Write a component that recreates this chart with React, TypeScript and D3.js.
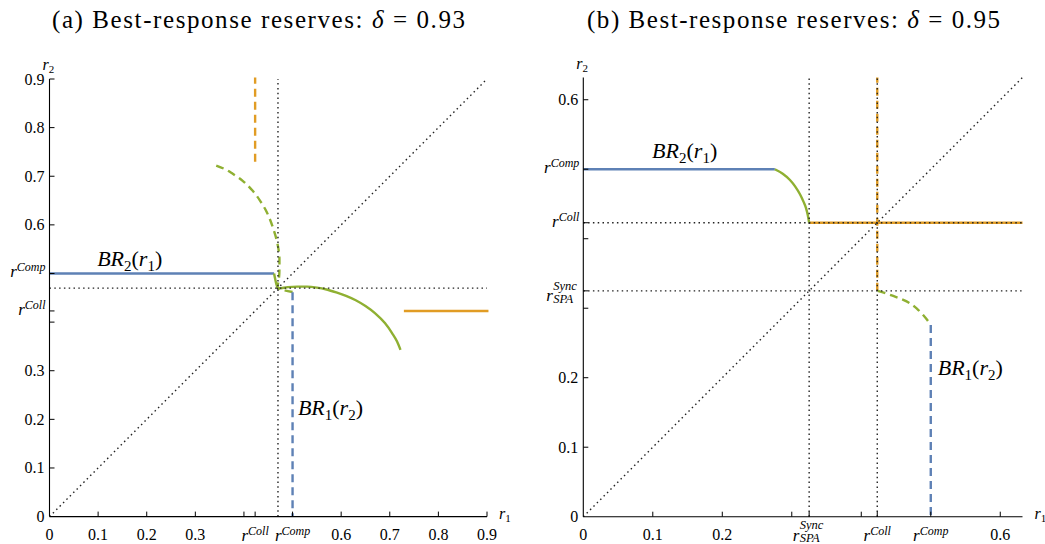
import React from "react";
import * as d3 from "d3";

const FONT = "'Liberation Serif', 'Times New Roman', serif";
const BLUE = "#5e81b5";
const ORANGE = "#e19c24";
const GREEN = "#8fb032";
const DOT = "#222";

type Pt = [number, number];

// ---------- Panel (a): delta = 0.93 ----------
const aTitle = "(a) Best-response reserves: ";
const aDelta = "0.93";
const aMax = 0.9;
const aRSync = 0.47;
const aXTicks = [0.1, 0.2, 0.3, 0.4, 0.423, 0.5, 0.6, 0.7, 0.8, 0.9];
const aXLabels = ["0.1", "0.2", "0.3", "", "r^Coll", "r^Comp", "0.6", "0.7", "0.8", "0.9"];
const aYTicks = [0.1, 0.2, 0.3, 0.4, 0.423, 0.5, 0.6, 0.7, 0.8, 0.9];
const aYLabels = ["0.1", "0.2", "0.3", "", "r^Coll", "r^Comp", "0.6", "0.7", "0.8", "0.9"];

const aBR2Blue: Pt[] = [[0, 0.5], [0.462, 0.5]];
const aBR2Green: Pt[] = [
  [0.462, 0.5], [0.471, 0.469], [0.49, 0.472], [0.51, 0.473], [0.53, 0.473],
  [0.55, 0.471], [0.57, 0.467], [0.59, 0.461], [0.61, 0.454], [0.63, 0.445],
  [0.65, 0.433], [0.67, 0.418], [0.69, 0.398], [0.705, 0.377], [0.715, 0.36], [0.722, 0.343],
];
const aBR1Blue: Pt[] = [[0.5, 0.4615], [0.5, 0]];
const aBR1Green: Pt[] = [
  [0.5, 0.462], [0.469, 0.471], [0.472, 0.49], [0.473, 0.51], [0.473, 0.53],
  [0.471, 0.55], [0.467, 0.57], [0.461, 0.59], [0.454, 0.61], [0.445, 0.63],
  [0.433, 0.65], [0.418, 0.67], [0.398, 0.69], [0.377, 0.705], [0.36, 0.715], [0.343, 0.722],
];
const aOrangeV: Pt[] = [[0.423, 0.73], [0.423, 0.903]];
const aOrangeH: Pt[] = [[0.729, 0.423], [0.903, 0.423]];
const aBR2Text: Pt = [0.098, 0.515];
const aBR1Text: Pt = [0.511, 0.209];

// ---------- Panel (b): delta = 0.95 ----------
const bTitle = "(b) Best-response reserves: ";
const bDelta = "0.95";
const bMax = 0.632;
const bRSync = 0.325;
const bRColl = 0.423;
const bXTicks = [0.1, 0.2, 0.3, 0.325, 0.4, 0.423, 0.5, 0.6];
const bXLabels = ["0.1", "0.2", "", "r^Sync_SPA", "", "r^Coll", "r^Comp", "0.6"];
const bYTicks = [0.1, 0.2, 0.3, 0.325, 0.4, 0.423, 0.5, 0.6];
const bYLabels = ["0.1", "0.2", "", "r^Sync_SPA", "", "r^Coll", "r^Comp", "0.6"];

const bBR2Blue: Pt[] = [[0, 0.5], [0.2756, 0.5]];
const bBR2Green: Pt[] = [
  [0.2756, 0.5], [0.287, 0.4935], [0.2974, 0.4845], [0.305, 0.475], [0.3118, 0.464],
  [0.317, 0.453], [0.3204, 0.4444], [0.323, 0.434], [0.325, 0.423],
];
const bBR2Orange: Pt[] = [[0.325, 0.423], [0.632, 0.423]];
const bBR1Orange: Pt[] = [[0.423, 0.325], [0.423, 0.632]];
const bBR1Green: Pt[] = [
  [0.4236, 0.325], [0.435, 0.3215], [0.446, 0.3176], [0.458, 0.313], [0.47, 0.3071],
  [0.48, 0.2995], [0.489, 0.2902], [0.495, 0.283], [0.5, 0.276],
];
const bBR1Blue: Pt[] = [[0.5, 0.276], [0.5, 0]];
const bBR2Text: Pt = [0.099, 0.516];
const bBR1Text: Pt = [0.51, 0.204];

type LineSpec = { pts: Pt[]; color: string; dash?: string; width?: number; curve?: any };

type PanelCfg = {
  title: string;
  delta: string;
  titleX: number;
  max: number;
  x0: number; x1: number; y0: number; y1: number;
  xTicks: number[]; xLabels: string[]; yTicks: number[]; yLabels: string[];
  lines: LineSpec[];
  refs: Pt[][];
  br2: Pt; br1: Pt;
};

function CustomLabel({ label, x, y, axis }: { label: string; x: number; y: number; axis: "x" | "y" }) {
  if (label.startsWith("r^Sync")) {
    const w = 33;
    const sx = axis === "y" ? x - w : x - w / 2;
    const rBase = axis === "y" ? y + 10 : 541;
    const supBase = axis === "y" ? y - 1 : 529;
    const subBase = axis === "y" ? y + 12 : 542;
    return (
      <g fontFamily={FONT} fontStyle="italic">
        <text x={sx} y={rBase} fontSize={17}>r</text>
        <text x={sx + 7} y={supBase} fontSize={12.5}>Sync</text>
        <text x={sx + 7} y={subBase} fontSize={12.5}>SPA</text>
      </g>
    );
  }
  const sup = label.split("^")[1];
  return (
    <text
      x={x}
      y={axis === "y" ? y + 4 : 541}
      textAnchor={axis === "y" ? "end" : "middle"}
      fontFamily={FONT}
      fontStyle="italic"
      fontSize={17}
    >
      <tspan>r</tspan>
      <tspan fontSize={12} dy={-6}>{sup}</tspan>
    </text>
  );
}

function BRLabel({ x, y, a, b }: { x: number; y: number; a: string; b: string }) {
  return (
    <text x={x} y={y} fontFamily={FONT} fontSize={22}>
      <tspan fontStyle="italic">BR</tspan>
      <tspan fontSize={15} dy={5}>{a}</tspan>
      <tspan dy={-5}>(</tspan>
      <tspan fontStyle="italic">r</tspan>
      <tspan fontSize={15} dy={5}>{b}</tspan>
      <tspan dy={-5}>)</tspan>
    </text>
  );
}

function Panel({ cfg }: { cfg: PanelCfg }) {
  const x = d3.scaleLinear().domain([0, cfg.max]).range([cfg.x0, cfg.x1]);
  const y = d3.scaleLinear().domain([0, cfg.max]).range([cfg.y0, cfg.y1]);
  const mk = (curve: any) =>
    d3.line<Pt>().x((d) => x(d[0])).y((d) => y(d[1])).curve(curve || d3.curveLinear);
  return (
    <g>
      <text x={cfg.titleX} y={28} fontFamily={FONT} fontSize={25} textLength={413} lengthAdjust="spacing">
        <tspan>{cfg.title}</tspan>
        <tspan fontStyle="italic">δ</tspan>
        <tspan>{" = " + cfg.delta}</tspan>
      </text>
      {/* colored lines */}
      {cfg.lines.map((l, i) => (
        <path
          key={"l" + i}
          d={mk(l.curve)(l.pts) || ""}
          fill="none"
          stroke={l.color}
          strokeWidth={l.width || 2.4}
          strokeDasharray={l.dash}
        />
      ))}
      {/* dotted reference lines */}
      {cfg.refs.map((r, i) => (
        <path
          key={"r" + i}
          d={mk(null)(r) || ""}
          fill="none"
          stroke={DOT}
          strokeWidth={1.4}
          strokeDasharray="1.5 3.3"
        />
      ))}
      {/* axes */}
      <line x1={cfg.x0} x2={cfg.x0} y1={cfg.y0} y2={cfg.y1} stroke="#000" strokeWidth={1.1} />
      <line x1={cfg.x0} x2={cfg.x1} y1={cfg.y0} y2={cfg.y0} stroke="#000" strokeWidth={1.1} />
      {cfg.xTicks.map((t, i) => (
        <g key={"xt" + i}>
          <line x1={x(t)} x2={x(t)} y1={cfg.y0} y2={cfg.y0 - 5} stroke="#000" strokeWidth={1} />
          {cfg.xLabels[i] && !cfg.xLabels[i].startsWith("r") && (
            <text x={x(t)} y={540} textAnchor="middle" fontFamily={FONT} fontSize={16}>
              {cfg.xLabels[i]}
            </text>
          )}
          {cfg.xLabels[i].startsWith("r") && <CustomLabel label={cfg.xLabels[i]} x={x(t)} y={cfg.y0} axis="x" />}
        </g>
      ))}
      {cfg.yTicks.map((t, i) => (
        <g key={"yt" + i}>
          <line x1={cfg.x0} x2={cfg.x0 + 5} y1={y(t)} y2={y(t)} stroke="#000" strokeWidth={1} />
          {cfg.yLabels[i] && !cfg.yLabels[i].startsWith("r") && (
            <text x={cfg.x0 - 5} y={y(t) + 5.5} textAnchor="end" fontFamily={FONT} fontSize={16}>
              {cfg.yLabels[i]}
            </text>
          )}
          {cfg.yLabels[i].startsWith("r") && <CustomLabel label={cfg.yLabels[i]} x={cfg.x0 - 4} y={y(t)} axis="y" />}
        </g>
      ))}
      <text x={x(0)} y={540} textAnchor="middle" fontFamily={FONT} fontSize={16}>0</text>
      <text x={cfg.x0 - 5} y={y(0) + 5.5} textAnchor="end" fontFamily={FONT} fontSize={16}>0</text>
      {/* axis names */}
      <text x={cfg.x0 - 7} y={cfg.y1 - 9} fontFamily={FONT} fontSize={16}>
        <tspan fontStyle="italic">r</tspan>
        <tspan fontSize={11} dy={3}>2</tspan>
      </text>
      <text x={cfg.x1 + 12} y={cfg.y0 + 2} fontFamily={FONT} fontSize={16}>
        <tspan fontStyle="italic">r</tspan>
        <tspan fontSize={11} dy={3}>1</tspan>
      </text>
      <BRLabel x={x(cfg.br2[0])} y={y(cfg.br2[1])} a="2" b="1" />
      <BRLabel x={x(cfg.br1[0])} y={y(cfg.br1[1])} a="1" b="2" />
    </g>
  );
}

const DASH = "8 5";

const panelA: PanelCfg = {
  title: aTitle,
  delta: aDelta,
  titleX: 52,
  max: aMax,
  x0: 49.5, x1: 487, y0: 516.6, y1: 79,
  xTicks: aXTicks, xLabels: aXLabels, yTicks: aYTicks, yLabels: aYLabels,
  lines: [
    { pts: aOrangeV, color: ORANGE, dash: DASH },
    { pts: aOrangeH, color: ORANGE },
    { pts: aBR1Green, color: GREEN, dash: DASH, curve: d3.curveMonotoneY },
    { pts: aBR1Blue, color: BLUE, dash: DASH },
    { pts: aBR2Blue, color: BLUE },
    { pts: aBR2Green, color: GREEN, curve: d3.curveMonotoneX },
  ],
  refs: [
    [[0, 0], [aMax, aMax]],
    [[aRSync, 0], [aRSync, aMax]],
    [[0, aRSync], [aMax, aRSync]],
  ],
  br2: aBR2Text,
  br1: aBR1Text,
};

const panelB: PanelCfg = {
  title: bTitle,
  delta: bDelta,
  titleX: 587,
  max: bMax,
  x0: 583.3, x1: 1022.5, y0: 516.7, y1: 77.5,
  xTicks: bXTicks, xLabels: bXLabels, yTicks: bYTicks, yLabels: bYLabels,
  lines: [
    { pts: bBR2Orange, color: ORANGE },
    { pts: bBR1Orange, color: ORANGE, dash: DASH },
    { pts: bBR1Green, color: GREEN, dash: DASH, curve: d3.curveMonotoneX },
    { pts: bBR1Blue, color: BLUE, dash: DASH },
    { pts: bBR2Blue, color: BLUE },
    { pts: bBR2Green, color: GREEN, curve: d3.curveMonotoneX },
  ],
  refs: [
    [[0, 0], [bMax, bMax]],
    [[bRSync, 0], [bRSync, bMax]],
    [[bRColl, 0], [bRColl, bMax]],
    [[0, bRSync], [bMax, bRSync]],
    [[0, bRColl], [bMax, bRColl]],
  ],
  br2: bBR2Text,
  br1: bBR1Text,
};

export default function App() {
  return (
    <svg
      width={1045}
      height={544}
      viewBox="0 0 1045 544"
      style={{ position: "absolute", left: 0, top: 0, background: "#fff" }}
    >
      <rect width={1045} height={544} fill="#fff" />
      <Panel cfg={panelA} />
      <Panel cfg={panelB} />
    </svg>
  );
}
